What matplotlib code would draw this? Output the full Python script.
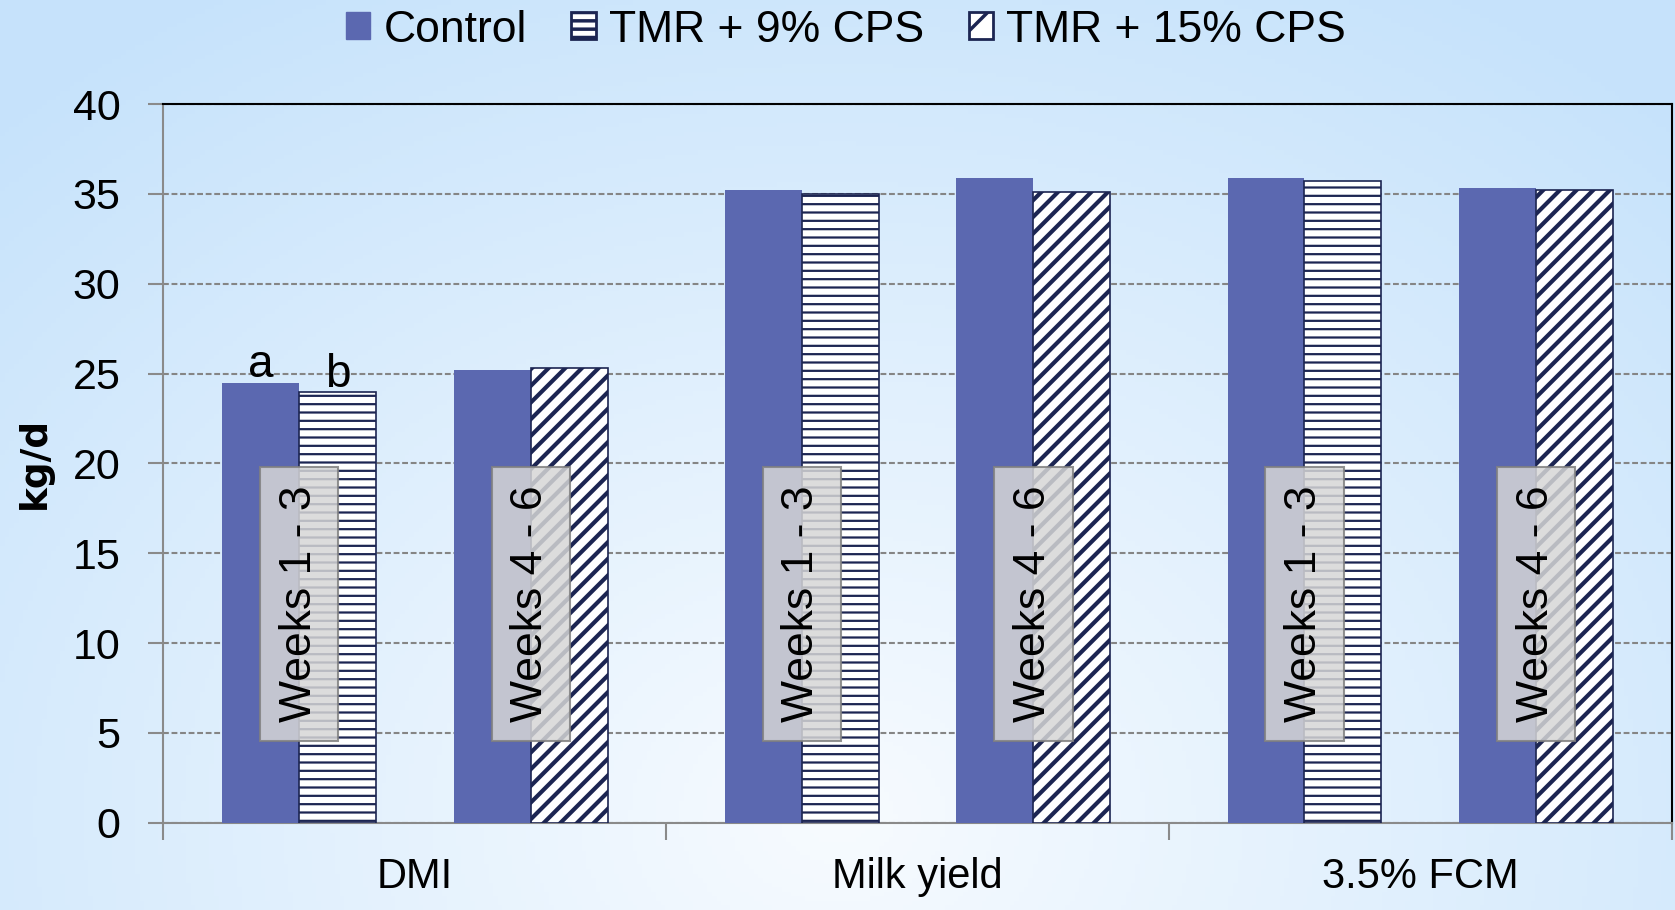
import numpy as np
import matplotlib
matplotlib.use("Agg")
import matplotlib.pyplot as plt
from matplotlib.patches import Patch
from matplotlib import font_manager

categories = ["DMI", "Milk yield", "3.5% FCM"]
control_w13 = [24.5, 35.2, 35.9]
tmr9_w13 = [23.95, 35.0, 35.7]
control_w46 = [25.2, 35.9, 35.3]
tmr15_w46 = [25.3, 35.1, 35.2]
period_labels = ["Weeks 1 - 3", "Weeks 4 - 6"]
legend_labels = ["Control", "TMR + 9% CPS", "TMR + 15% CPS"]
sig_letters = ["a", "b"]

available = {f.name for f in font_manager.fontManager.ttflist}
NARROW = "Liberation Sans Narrow" if "Liberation Sans Narrow" in available else "Liberation Sans"
narrow_ok = NARROW == "Liberation Sans Narrow"
plt.rcParams["font.family"] = ["Liberation Sans", "DejaVu Sans"]
plt.rcParams["hatch.linewidth"] = 2.5

BLUE = "#5b68b0"
NAVY = "#1c2552"

fig = plt.figure(figsize=(16.75, 9.1), dpi=100)

# light blue background, paler towards the bottom centre
bg = fig.add_axes([0, 0, 1, 1], zorder=-10)
yy, xx = np.mgrid[0:1:200j, 0:1:360j]
d = np.clip(np.sqrt(((xx - 0.5) / 0.72) ** 2 + ((yy - 0.9) / 1.05) ** 2), 0, 1)
light = np.array([0.97, 0.985, 1.0])
dark = np.array([0.78, 0.89, 0.985])
img = light * (1 - d[..., None]) + dark * d[..., None]
bg.imshow(img, aspect="auto", extent=[0, 1, 0, 1])
bg.axis("off")

ax = fig.add_axes([0.0976, 0.0959, 0.9004, 0.7898])
ax.set_facecolor("none")

x = np.arange(len(categories)) + 0.5
pair_off = 0.2304
w = 0.153

def hatched(bars, lw):
    for p in bars:
        if hasattr(p, "set_hatch_linewidth"):
            p.set_hatch_linewidth(lw)

ax.bar(x - pair_off - w / 2, control_w13, w, color=BLUE, zorder=3)
b9 = ax.bar(x - pair_off + w / 2, tmr9_w13, w, facecolor="white",
            edgecolor=NAVY, hatch="--", linewidth=1.2, zorder=3)
hatched(b9, 1.6)
ax.bar(x + pair_off - w / 2, control_w46, w, color=BLUE, zorder=3)
b15 = ax.bar(x + pair_off + w / 2, tmr15_w46, w, facecolor="white",
             edgecolor=NAVY, hatch="//", linewidth=1.2, zorder=3)
hatched(b15, 3.0)

# a / b letters above the DMI weeks 1-3 bars
for xi, val, s in zip([x[0] - pair_off - w / 2, x[0] - pair_off + w / 2],
                      [control_w13[0], tmr9_w13[0]], sig_letters):
    ax.annotate(s, (xi, val), xytext=(0, 4), textcoords="offset points",
                ha="center", va="baseline", fontsize=33, zorder=6)

box = dict(boxstyle="square,pad=0.42", facecolor="#d6d6d6", edgecolor="#808080",
           linewidth=1.5, alpha=0.85)
for xi in x:
    for off, lab in zip([-pair_off, pair_off], period_labels):
        ax.text(xi + off, 12.2, lab, rotation=90, ha="center", va="center",
                fontsize=32, bbox=box, zorder=6)

ax.set_xlim(0, 3)
ax.set_ylim(0, 40)
ax.set_yticks(range(0, 41, 5))
ax.yaxis.grid(True, color="#858585", linewidth=1.5, linestyle=(0, (2.8, 1.3)))
ax.set_axisbelow(True)

ax.set_xticks([0, 1, 2, 3])
ax.set_xticklabels([])
ax.set_xticks(x, minor=True)
ax.set_xticklabels(categories, minor=True, family=NARROW,
                   fontsize=33 if narrow_ok else 30)
ax.tick_params(axis="x", which="major", length=12, width=1.5, color="#8a8a8a")
ax.tick_params(axis="x", which="minor", length=0, pad=25)
ax.tick_params(axis="y", length=11, width=1.5, color="#8a8a8a", pad=20, labelsize=31)

for side in ["left", "bottom"]:
    ax.spines[side].set_color("#8a8a8a")
    ax.spines[side].set_linewidth(1.5)
for side in ["top", "right"]:
    ax.spines[side].set_color("black")
    ax.spines[side].set_linewidth(1.5)

fig.text(35 / 1675, 1 - 463 / 910, "kg/d", rotation=90, ha="center", va="center",
         fontsize=27, fontweight="bold", family="DejaVu Sans")

handles = [Patch(facecolor=BLUE, edgecolor=BLUE),
           Patch(facecolor="white", edgecolor=NAVY, hatch="--", linewidth=2),
           Patch(facecolor="white", edgecolor=NAVY, hatch="/", linewidth=2)]
hatched(handles[1:], 2.5)
leg_size = 35 if narrow_ok else 32
fig.legend(handles, legend_labels, loc="center", bbox_to_anchor=(0.505, 0.967),
           ncol=3, frameon=False, prop={"family": NARROW, "size": leg_size},
           handlelength=0.55, handleheight=0.55, handletextpad=0.3,
           columnspacing=1.6 if narrow_ok else 1.0)

fig.savefig("out.png", dpi=100)
